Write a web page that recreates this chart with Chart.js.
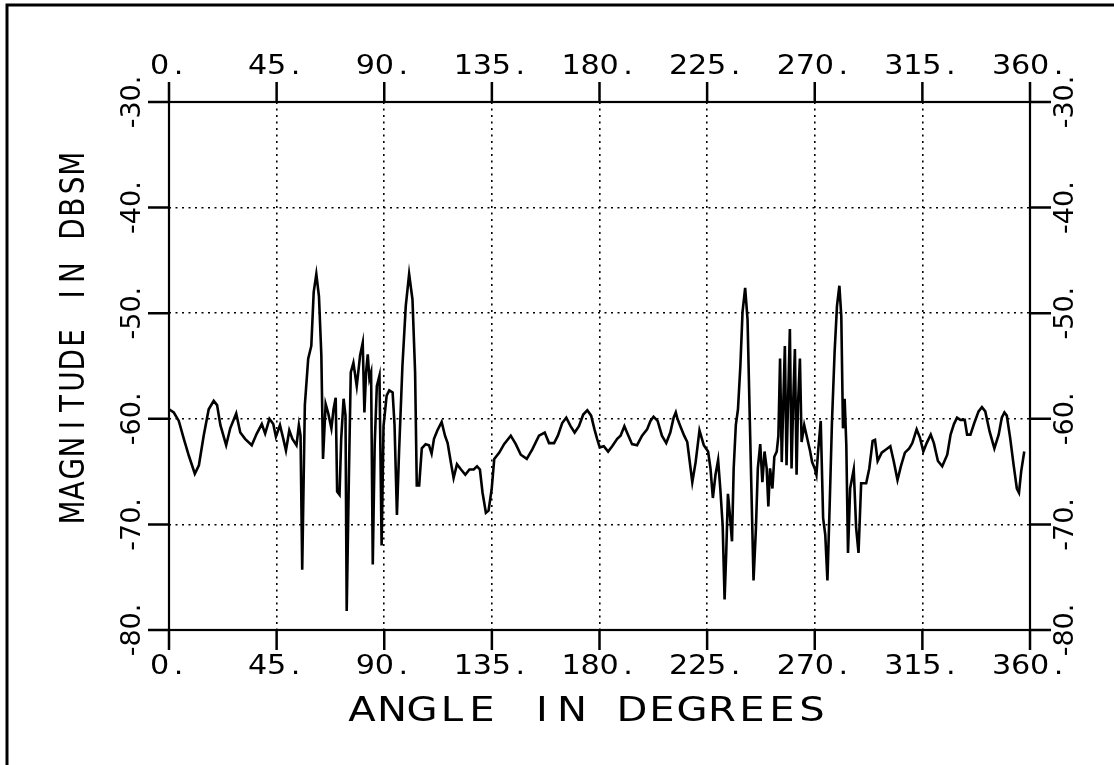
<!DOCTYPE html>
<html>
<head>
<meta charset="utf-8">
<script src="https://cdn.jsdelivr.net/npm/chart.js@4.4.1/dist/chart.umd.min.js"></script>
<style>
html, body { margin:0; padding:0; background:#fff; }
#wrap { width:1114px; height:765px; position:relative; }
</style>
</head>
<body>
<div id="wrap"><canvas id="graf"></canvas></div>
<script>
const angleDeg = [
  0, 2, 4.1, 6.2, 8.3, 10.8, 12.5, 14.5, 16.6, 18.7, 20.1, 21.5, 23.9, 25.6, 28.1, 29.8, 31.8, 34.6, 36.7, 38.8,
  40.2, 42.0, 43.6, 44.7, 46.4, 47.8, 48.9, 50.3, 51.6, 53.3, 54.3, 55.0, 55.7, 56.8, 58.2, 59.5, 60.5, 61.6, 62.7, 63.7,
  64.4, 65.5, 66.5, 67.9, 68.8, 69.7, 70.3, 71.3, 72.0, 73.0, 73.8, 74.3, 75.2, 76.0, 77.1, 78.5, 79.9, 81.0, 81.7, 82.4,
  83.1, 83.8, 84.5, 85.2, 86.0, 86.9, 88.0, 88.9, 89.7, 91.0, 92.1, 93.5, 94.3, 95.3, 96.2, 97.6, 99.0, 100.4, 101.8, 102.9,
  103.6, 104.6, 105.7, 107.3, 108.7, 109.8, 110.8, 112.2, 114.0, 115.4, 116.5, 117.9, 119.0, 120.4, 122.1, 123.9, 125.6, 127.4, 128.8, 130.0,
  131.1, 132.5, 133.6, 134.9, 136.0, 138.1, 140.1, 142.9, 145.0, 147.1, 149.6, 151.9, 154.7, 157.1, 158.9, 161.0, 162.6, 164.4, 166.1, 167.9,
  169.6, 171.4, 173.2, 174.9, 176.5, 177.9, 179.0, 180.1, 181.8, 183.6, 185.3, 187.4, 188.8, 190.4, 191.5, 193.6, 195.7, 197.8, 199.9, 201.3,
  202.6, 204.3, 206.1, 207.9, 209.6, 211.0, 211.9, 212.6, 213.8, 215.4, 216.7, 218.8, 220.2, 221.8, 223.6, 225.4, 226.4, 227.4, 228.5, 229.6,
  230.5, 231.5, 232.3, 233.0, 233.7, 234.4, 235.4, 236.1, 237.0, 237.9, 238.9, 239.8, 240.9, 241.9, 243.0, 244.4, 245.4, 246.2, 247.2, 248.1,
  249.0, 249.9, 250.6, 251.3, 252.3, 253.1, 254.1, 254.8, 255.5, 256.2, 256.9, 257.5, 258.2, 258.9, 259.6, 260.3, 261.0, 261.7, 262.4, 263.0,
  263.8, 264.5, 265.6, 266.6, 268.0, 268.9, 270.0, 270.7, 271.4, 272.5, 273.5, 274.4, 275.3, 276.2, 277.2, 278.3, 279.3, 280.3, 281.1, 281.8,
  282.5, 283.2, 283.9, 284.8, 286.3, 287.3, 288.3, 289.4, 291.5, 292.8, 294.2, 295.2, 296.3, 298.0, 299.8, 301.6, 303.0, 304.6, 306.0, 307.7,
  309.5, 310.8, 312.6, 314.0, 315.4, 316.8, 318.5, 319.8, 321.5, 323.3, 325.4, 326.8, 328.2, 329.5, 330.9, 332.7, 333.7, 335.1, 336.7, 338.5,
  339.9, 341.3, 343.1, 345.1, 346.9, 348.2, 349.3, 350.3, 351.7, 353.1, 354.5, 355.4, 356.3, 357.6
];
const magnitudeDb = [
  -59.1, -59.4, -60.2, -61.9, -63.5, -65.2, -64.4, -61.6, -59.1, -58.3, -58.7, -60.6, -62.5, -60.9, -59.5, -61.3, -61.9, -62.5, -61.4, -60.5,
  -61.4, -60.0, -60.5, -61.7, -60.6, -61.9, -63.0, -61.1, -61.9, -62.5, -60.6, -61.6, -74.3, -58.7, -54.3, -53.1, -48.0, -46.3, -48.4, -54.0,
  -63.8, -58.6, -59.4, -60.9, -59.1, -58.0, -66.9, -67.2, -61.9, -58.1, -59.7, -78.2, -65.7, -55.6, -54.7, -56.9, -54.0, -52.8, -59.4, -55.6,
  -53.9, -56.2, -55.6, -73.8, -62.5, -56.9, -55.9, -72.0, -60.7, -57.8, -57.3, -57.5, -60.6, -69.1, -63.1, -55.0, -49.3, -46.3, -48.7, -55.6,
  -66.3, -66.3, -62.8, -62.4, -62.5, -63.3, -61.9, -61.1, -60.3, -61.6, -62.3, -64.2, -65.6, -64.3, -64.8, -65.3, -64.8, -64.8, -64.5, -64.8,
  -67.0, -68.9, -68.7, -66.7, -63.8, -63.2, -62.4, -61.6, -62.4, -63.4, -63.8, -62.9, -61.6, -61.3, -62.3, -62.3, -61.6, -60.4, -59.9, -60.7,
  -61.3, -60.7, -59.6, -59.2, -59.7, -61.0, -61.9, -62.7, -62.6, -63.1, -62.6, -61.9, -61.6, -60.7, -61.3, -62.4, -62.5, -61.6, -61.0, -60.2,
  -59.8, -60.2, -61.6, -62.3, -61.3, -59.9, -59.4, -60.0, -60.7, -61.6, -62.2, -66.0, -64.1, -61.1, -62.5, -63.1, -64.7, -67.5, -65.3, -63.9,
  -66.6, -70.1, -77.1, -72.6, -67.1, -68.8, -71.6, -64.7, -60.6, -59.1, -55.0, -49.9, -47.6, -50.6, -61.6, -75.3, -70.4, -64.7, -62.4, -66.0,
  -63.1, -64.7, -68.3, -64.7, -66.6, -63.6, -63.1, -61.6, -54.3, -64.1, -58.1, -53.1, -64.4, -57.8, -51.5, -64.7, -58.4, -53.4, -65.3, -58.7,
  -54.3, -62.2, -60.6, -61.6, -63.0, -64.1, -64.7, -65.3, -63.1, -60.2, -69.4, -71.0, -75.3, -68.5, -60.3, -53.7, -49.3, -47.4, -50.3, -60.9,
  -58.1, -62.5, -72.7, -66.6, -64.8, -70.3, -72.7, -66.1, -66.1, -64.7, -62.1, -62.0, -64.0, -63.2, -62.9, -62.6, -64.0, -65.8, -64.5, -63.2,
  -62.8, -62.3, -61.0, -61.8, -63.1, -62.3, -61.5, -62.3, -64.0, -64.5, -63.4, -61.5, -60.5, -59.9, -60.1, -60.1, -61.5, -61.5, -60.4, -59.3,
  -58.9, -59.3, -61.2, -62.8, -61.5, -59.9, -59.4, -59.7, -61.8, -64.3, -66.6, -67.0, -65.0, -63.1
];
const xTickValues = [0, 45, 90, 135, 180, 225, 270, 315, 360];
const xTickLabels = ['0.', '45.', '90.', '135.', '180.', '225.', '270.', '315.', '360.'];
const yTickValues = [-80, -70, -60, -50, -40, -30];
const yTickLabels = ['-80.', '-70.', '-60.', '-50.', '-40.', '-30.'];
const xTitle = 'ANGLE IN DEGREES';
const yTitle = 'MAGNITUDE IN DBSM';

// plotter style lettering: every char in a fixed cell
function monoText(ctx, text, cx, cy, pitch, rot, stretch) {
    ctx.save();
    ctx.translate(cx, cy);
    if (rot) ctx.rotate(rot);
    let start = -text.length * pitch / 2;
    for (let i = 0; i < text.length; i++) {
        ctx.save();
        ctx.translate(start + pitch * (i + 0.5), 0);
        ctx.scale(stretch || 1, 1);
        ctx.fillText(text[i], 0, 0);
        ctx.restore();
    }
    ctx.restore();
}

// rotated label reading bottom to top
function upText(ctx, text, cx, cy) {
    ctx.save();
    ctx.translate(cx, cy);
    ctx.rotate(-Math.PI / 2);
    ctx.fillText(text, 0, 0);
    ctx.restore();
}

const plotter = {
    id: 'plotter',
    afterDraw(chart) {
        let ctx = chart.ctx, a = chart.chartArea;
        let sx = chart.scales.x, sy = chart.scales.y;
        ctx.save();
        ctx.strokeStyle = '#000';
        ctx.fillStyle = '#000';
        // sheet frame
        ctx.lineWidth = 3;
        ctx.beginPath();
        ctx.moveTo(7, 765); ctx.lineTo(7, 5); ctx.lineTo(1114, 5);
        ctx.stroke();
        // axis box
        ctx.lineWidth = 2.2;
        ctx.strokeRect(a.left, a.top, a.right - a.left, a.bottom - a.top);
        // outward ticks on all four sides
        ctx.lineWidth = 2.5;
        ctx.beginPath();
        xTickValues.forEach(v => {
            let x = sx.getPixelForValue(v);
            ctx.moveTo(x, a.top - 20); ctx.lineTo(x, a.top);
            ctx.moveTo(x, a.bottom); ctx.lineTo(x, a.bottom + 20);
        });
        yTickValues.forEach(v => {
            let y = sy.getPixelForValue(v);
            ctx.moveTo(a.left - 21, y); ctx.lineTo(a.left, y);
            ctx.moveTo(a.right, y); ctx.lineTo(a.right + 21, y);
        });
        ctx.stroke();
        // tick labels
        ctx.textAlign = 'center';
        ctx.textBaseline = 'middle';
        ctx.font = '27px "DejaVu Sans"';
        xTickValues.forEach((v, i) => {
            let x = sx.getPixelForValue(v);
            monoText(ctx, xTickLabels[i], x, a.top - 35, 19, 0, 1.12);
            monoText(ctx, xTickLabels[i], x, a.bottom + 37, 19, 0, 1.12);
        });
        yTickValues.forEach((v, i) => {
            let y = sy.getPixelForValue(v);
            upText(ctx, yTickLabels[i], a.left - 36, y);
            upText(ctx, yTickLabels[i], a.right + 36, y);
        });
        // axis titles
        ctx.font = '34px "DejaVu Sans"';
        monoText(ctx, xTitle, 587, a.bottom + 82, 30, 0, 1.18);
        monoText(ctx, yTitle, 75, 338, 21.8, -Math.PI / 2, 0.82);
        ctx.restore();
    }
};

document.addEventListener("DOMContentLoaded", () => {
    let cont = document.getElementById('graf').getContext('2d');
    let graf = new Chart(cont, {
        type: 'line',
        data: {
            datasets: [{
                label: 'RCS',
                data: angleDeg.map((x, i) => ({x: x, y: magnitudeDb[i]})),
                borderColor: '#000',
                borderWidth: 2.6,
                pointRadius: 0,
                tension: 0,
                fill: false,
            }]
        },
        options: {
            animation: false,
            responsive: true,
            maintainAspectRatio: false,
            layout: { padding: { left: 169, right: 84, top: 102, bottom: 135 } },
            plugins: { legend: { display: false }, tooltip: { enabled: false } },
            scales: {
                x: {
                    type: 'linear', min: 0, max: 360,
                    ticks: { display: false, stepSize: 45 },
                    grid: { color: '#000', lineWidth: 1.6, drawTicks: false },
                    border: { display: false, dash: [2, 4.5] },
                    afterFit(s) { s.height = 0; }
                },
                y: {
                    min: -80, max: -30,
                    ticks: { display: false, stepSize: 10 },
                    grid: { color: '#000', lineWidth: 1.6, drawTicks: false },
                    border: { display: false, dash: [2, 4.5] },
                    afterFit(s) { s.width = 0; }
                }
            }
        },
        plugins: [plotter]
    });
});
</script>
</body>
</html>
